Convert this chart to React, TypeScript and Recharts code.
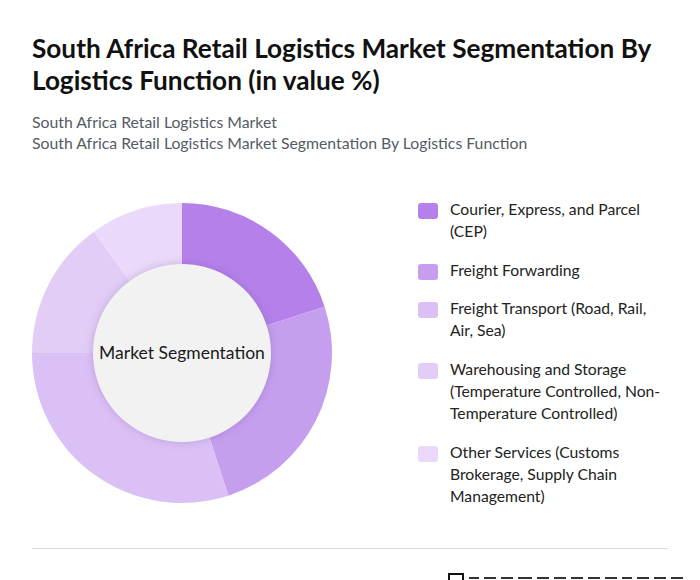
import React from 'react';
import { PieChart, Pie, Cell, Label } from 'recharts';

const segments = [
  'Courier, Express, and Parcel (CEP)',
  'Freight Forwarding',
  'Freight Transport (Road, Rail, Air, Sea)',
  'Warehousing and Storage (Temperature Controlled, Non-Temperature Controlled)',
  'Other Services (Customs Brokerage, Supply Chain Management)',
];
const shares = [20, 25, 30, 15, 10];
const colors = ['#b580ea', '#c59fee', '#dbc0f6', '#e2cdf7', '#ead9fa'];

const data = segments.map((name, i) => ({ name, value: shares[i] }));
const center = [{ name: 'Market Segmentation', value: 1 }];

// widths of the letter blocks in the cropped logo strip at the bottom
const logoBlocks = [10, 12, 12, 14, 12, 12, 12, 12, 12, 10, 12, 12, 12];

const font = 'Lato, "Noto Sans", sans-serif';

const App: React.FC = () => {
  return (
    <div
      style={{
        position: 'fixed',
        left: 0,
        top: 0,
        width: 700,
        height: 580,
        overflow: 'hidden',
        background: '#fff',
        fontFamily: font,
      }}
    >
      <div
        style={{
          position: 'absolute',
          left: 32,
          top: 32,
          width: 650,
          fontSize: 26.2,
          fontWeight: 700,
          lineHeight: '32px',
          color: '#111',
        }}
      >
        South Africa Retail Logistics Market Segmentation By Logistics Function (in value %)
      </div>
      <div
        style={{
          position: 'absolute',
          left: 32,
          top: 111,
          fontSize: 15.8,
          lineHeight: '21px',
          color: '#555b66',
        }}
      >
        <div>South Africa Retail Logistics Market</div>
        <div>South Africa Retail Logistics Market Segmentation By Logistics Function</div>
      </div>

      <div style={{ position: 'absolute', left: 0, top: 180 }}>
        <PieChart width={364} height={346} margin={{ top: 0, right: 0, bottom: 0, left: 0 }}>
          <Pie
            data={data}
            dataKey="value"
            cx={182}
            cy={173}
            innerRadius={88}
            outerRadius={150}
            startAngle={90}
            endAngle={-270}
            stroke="none"
            isAnimationActive={false}
          >
            {data.map((d, i) => (
              <Cell key={d.name} fill={colors[i]} />
            ))}
          </Pie>
          <Pie
            data={center}
            dataKey="value"
            cx={182}
            cy={173}
            innerRadius={0}
            outerRadius={89}
            stroke="none"
            fill="#f2f2f2"
            style={{ filter: 'drop-shadow(0px 0px 4px rgba(90,60,130,0.25))' }}
            isAnimationActive={false}
          >
            <Label
              value="Market Segmentation"
              position="center"
              fill="#1a1a1a"
              style={{ fontSize: 17.5, fontFamily: font }}
            />
          </Pie>
        </PieChart>
      </div>

      <div style={{ position: 'absolute', left: 418, top: 198, width: 260 }}>
        {segments.map((s, i) => (
          <div key={s} style={{ display: 'flex', alignItems: 'flex-start', marginBottom: 16.7 }}>
            <div
              style={{
                width: 20,
                height: 16,
                borderRadius: 3,
                background: colors[i],
                marginTop: 5,
                flexShrink: 0,
              }}
            />
            <div
              style={{
                marginLeft: 12,
                width: 218,
                fontSize: 15.7,
                lineHeight: '22px',
                color: '#222',
              }}
            >
              {s}
            </div>
          </div>
        ))}
      </div>

      <div
        style={{
          position: 'absolute',
          left: 32,
          top: 548,
          width: 636,
          height: 1,
          background: '#dcdce0',
        }}
      />
      <div
        style={{
          position: 'absolute',
          left: 448,
          top: 573,
          display: 'flex',
          alignItems: 'flex-start',
          gap: 5,
        }}
      >
        <div style={{ width: 16, height: 14, border: '2px solid #111', boxSizing: 'border-box' }} />
        {logoBlocks.map((w, i) => (
          <div
            key={i}
            style={{ width: w, height: 10, marginTop: 4, borderTop: '2px solid #333', boxSizing: 'border-box' }}
          />
        ))}
      </div>
    </div>
  );
};

export default App;
